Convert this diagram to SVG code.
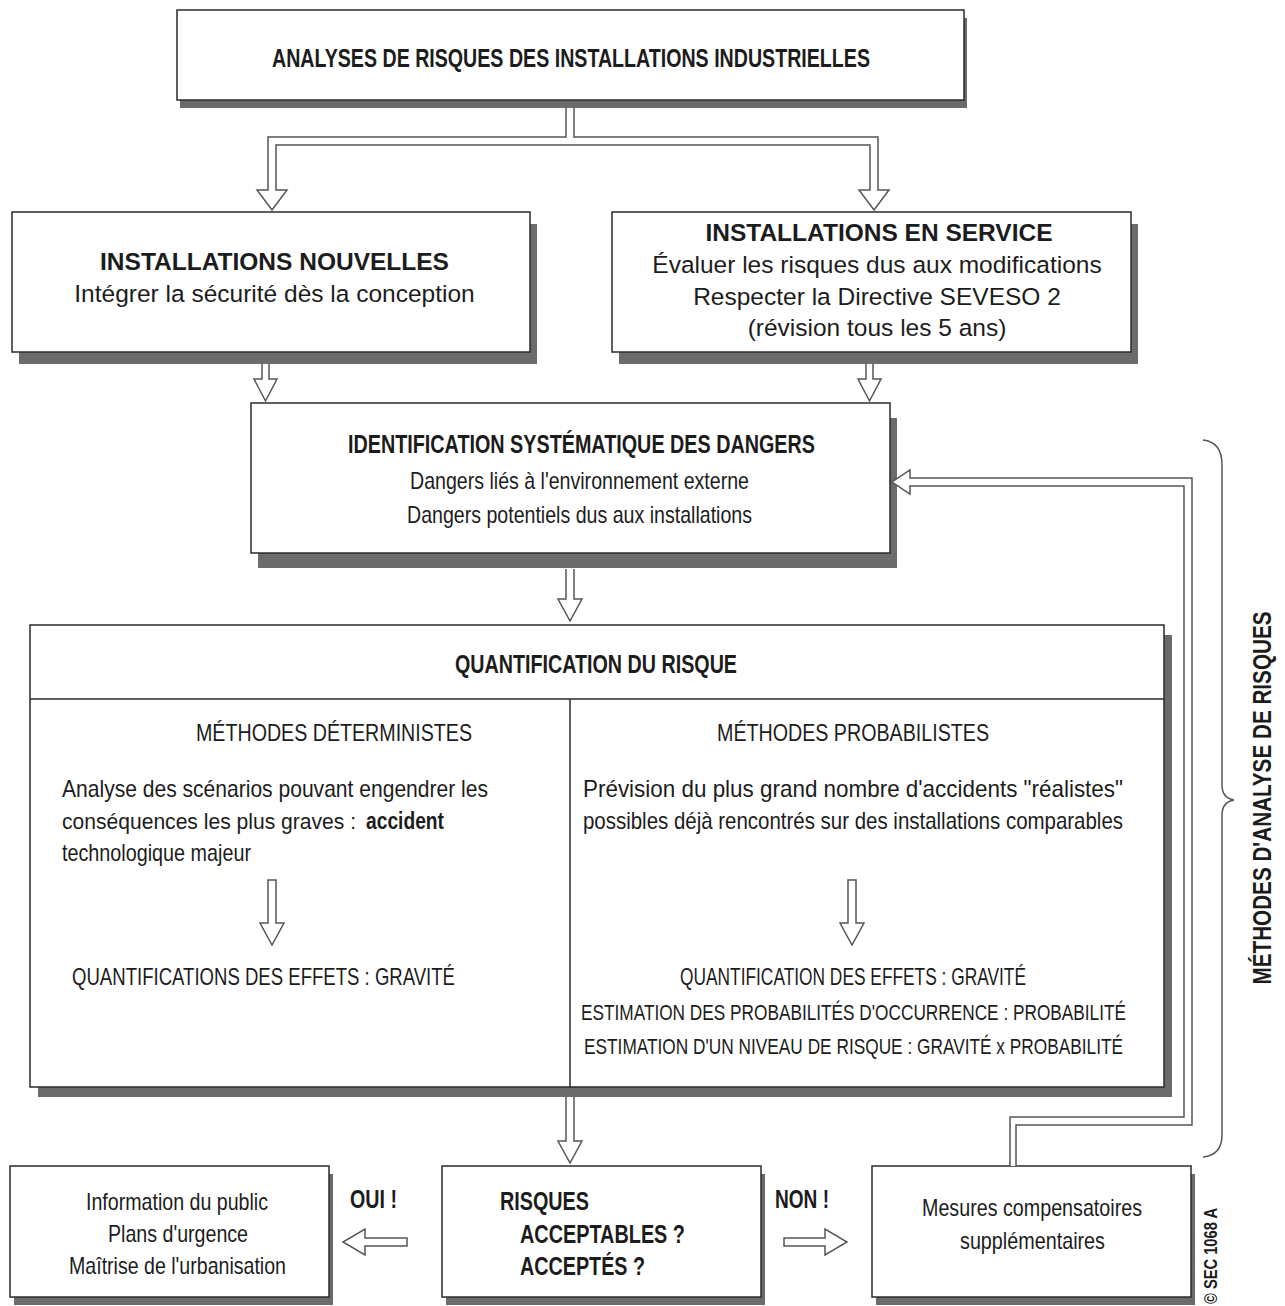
<svg xmlns="http://www.w3.org/2000/svg" width="1285" height="1306" viewBox="0 0 1285 1306">
<style>
.box{fill:#fff;stroke:#2b2b2b;stroke-width:1.5}
.shadow{fill:#6b6b6b}
.rule{stroke:#2b2b2b;stroke-width:1.5;fill:none}
.arrow{fill:#fff;stroke:#555;stroke-width:1.5;stroke-linejoin:miter}
.brace{fill:none;stroke:#555;stroke-width:1.5}
text{font-family:"Liberation Sans",Arial,sans-serif;fill:#1c1c1c}
.cb{font-size:26px;font-weight:bold}
.cr{font-size:24px}
.cs{font-size:21.5px}
.hb{font-size:24.5px;font-weight:bold}
.hr{font-size:24.5px}
.mid{text-anchor:middle}
</style>
<rect width="1285" height="1306" fill="#fff"/>

<!-- top node -->
<g id="analyses">
  <rect class="shadow" x="180" y="18" width="787" height="90"/>
  <rect class="box" x="177" y="10" width="787" height="90"/>
  <text class="cb mid" x="571" y="67" textLength="598" lengthAdjust="spacingAndGlyphs">ANALYSES DE RISQUES DES INSTALLATIONS INDUSTRIELLES</text>
</g>

<g id="nouvelles">
  <rect class="shadow" x="19" y="224" width="518" height="140"/>
  <rect class="box" x="12" y="212" width="518" height="140"/>
  <text class="hb mid" x="274.5" y="270">INSTALLATIONS NOUVELLES</text>
  <text class="hr mid" x="274.5" y="302">Intégrer la sécurité dès la conception</text>
</g>

<g id="service">
  <rect class="shadow" x="619" y="224" width="519" height="140"/>
  <rect class="box" x="612" y="212" width="519" height="140"/>
  <text class="hb mid" x="879" y="241">INSTALLATIONS EN SERVICE</text>
  <text class="hr mid" x="877" y="273">Évaluer les risques dus aux modifications</text>
  <text class="hr mid" x="877" y="305">Respecter la Directive SEVESO 2</text>
  <text class="hr mid" x="877" y="336">(révision tous les 5 ans)</text>
</g>

<g id="identification">
  <rect class="shadow" x="258" y="418" width="639" height="150"/>
  <rect class="box" x="251" y="403" width="639" height="150"/>
  <text class="cb mid" x="581.5" y="453" textLength="467" lengthAdjust="spacingAndGlyphs">IDENTIFICATION SYSTÉMATIQUE DES DANGERS</text>
  <text class="cr mid" x="579.5" y="489" textLength="339" lengthAdjust="spacingAndGlyphs">Dangers liés à l'environnement externe</text>
  <text class="cr mid" x="579.5" y="523" textLength="345" lengthAdjust="spacingAndGlyphs">Dangers potentiels dus aux installations</text>
</g>

<g id="quantification">
  <rect class="shadow" x="38" y="635" width="1134" height="462"/>
  <rect class="box" x="30" y="625" width="1134" height="462"/>
  <line class="rule" x1="30" y1="699" x2="1164" y2="699"/>
  <line class="rule" x1="570" y1="699" x2="570" y2="1087"/>
  <text class="cb mid" x="596" y="673" textLength="282" lengthAdjust="spacingAndGlyphs">QUANTIFICATION DU RISQUE</text>

  <!-- deterministic column -->
  <text class="cr mid" x="334" y="741" textLength="276" lengthAdjust="spacingAndGlyphs">MÉTHODES DÉTERMINISTES</text>
  <text class="cr" x="62" y="797" textLength="426" lengthAdjust="spacingAndGlyphs">Analyse des scénarios pouvant engendrer les</text>
  <text class="cs" x="62" y="829" textLength="294" lengthAdjust="spacingAndGlyphs">conséquences les plus graves :</text>
  <text class="cr" x="366" y="829" font-weight="bold" textLength="78" lengthAdjust="spacingAndGlyphs">accident</text>
  <text class="cr" x="62" y="861" textLength="189" lengthAdjust="spacingAndGlyphs">technologique majeur</text>
  <path class="arrow" d="M268,880 H276 V923 H284 L272,945 L260,923 H268 Z"/>
  <text class="cr mid" x="263.5" y="985" textLength="383" lengthAdjust="spacingAndGlyphs">QUANTIFICATIONS DES EFFETS : GRAVITÉ</text>

  <!-- probabilistic column -->
  <text class="cr mid" x="853" y="741" textLength="272" lengthAdjust="spacingAndGlyphs">MÉTHODES PROBABILISTES</text>
  <text class="cr" x="583" y="797" textLength="540" lengthAdjust="spacingAndGlyphs">Prévision du plus grand nombre d'accidents "réalistes"</text>
  <text class="cr" x="583" y="829" textLength="540" lengthAdjust="spacingAndGlyphs">possibles déjà rencontrés sur des installations comparables</text>
  <path class="arrow" d="M848,880 H856 V923 H864 L852,945 L840,923 H848 Z"/>
  <text class="cr mid" x="853" y="985" textLength="346" lengthAdjust="spacingAndGlyphs">QUANTIFICATION DES EFFETS : GRAVITÉ</text>
  <text class="cs mid" x="853.5" y="1020" textLength="545" lengthAdjust="spacingAndGlyphs">ESTIMATION DES PROBABILITÉS D'OCCURRENCE : PROBABILITÉ</text>
  <text class="cs mid" x="853.5" y="1054" textLength="539" lengthAdjust="spacingAndGlyphs">ESTIMATION D'UN NIVEAU DE RISQUE : GRAVITÉ x PROBABILITÉ</text>
</g>

<g id="information">
  <rect class="shadow" x="14" y="1174" width="319" height="131"/>
  <rect class="box" x="10" y="1166" width="319" height="131"/>
  <text class="cr mid" x="177" y="1210" textLength="182" lengthAdjust="spacingAndGlyphs">Information du public</text>
  <text class="cr mid" x="178" y="1242" textLength="140" lengthAdjust="spacingAndGlyphs">Plans d'urgence</text>
  <text class="cr mid" x="177.5" y="1274" textLength="217" lengthAdjust="spacingAndGlyphs">Maîtrise de l'urbanisation</text>
</g>

<g id="risques">
  <rect class="shadow" x="446" y="1174" width="319" height="131"/>
  <rect class="box" x="442" y="1166" width="319" height="131"/>
  <text class="cb" x="500" y="1210" textLength="89" lengthAdjust="spacingAndGlyphs">RISQUES</text>
  <text class="cb" x="520" y="1243" textLength="165" lengthAdjust="spacingAndGlyphs">ACCEPTABLES ?</text>
  <text class="cb" x="520" y="1275" textLength="125" lengthAdjust="spacingAndGlyphs">ACCEPTÉS ?</text>
</g>

<g id="mesures">
  <rect class="shadow" x="876" y="1174" width="319" height="131"/>
  <rect class="box" x="872" y="1166" width="319" height="131"/>
  <text class="cr mid" x="1032" y="1216" textLength="220" lengthAdjust="spacingAndGlyphs">Mesures compensatoires</text>
  <text class="cr mid" x="1032.5" y="1249" textLength="145" lengthAdjust="spacingAndGlyphs">supplémentaires</text>
</g>

<!-- hollow arrows between nodes -->
<g id="connectors">
  <path class="arrow" d="M566,108 V137 H268 V190 H257 L272,210 L287,190 H276 V145 H870 V190 H859 L874,210 L889,190 H878 V137 H574 V108"/>
  <path class="arrow" d="M262,364 V379 H254 L265.5,401 L277,379 H269 V364"/>
  <path class="arrow" d="M866,364 V379 H858 L869.5,401 L881,379 H873 V364"/>
  <path class="arrow" d="M566,569 V599 H558 L570,621 L582,599 H574 V569"/>
  <path class="arrow" d="M566,1097 V1141 H558 L570,1163 L582,1141 H574 V1097"/>
  <path class="arrow" d="M1010,1166 V1117 H1184 V486 H910 V494 L892,482 L910,470 V478 H1192 V1125 H1016 V1166"/>
  <path class="arrow" d="M407,1238 H365 V1229 L343,1242 L365,1255 V1246 H407 Z"/>
  <path class="arrow" d="M784,1238 H825 V1229 L847,1242 L825,1255 V1246 H784 Z"/>
  <text class="cb" x="350" y="1208" textLength="47" lengthAdjust="spacingAndGlyphs">OUI !</text>
  <text class="cb" x="775" y="1208" textLength="54" lengthAdjust="spacingAndGlyphs">NON !</text>
</g>

<!-- brace and side label -->
<g id="methodes">
  <path class="brace" d="M1203,440 Q1222,442 1222,465 L1222,785 Q1222,798 1234,800 Q1222,802 1222,815 L1222,1135 Q1222,1155 1203,1157"/>
  <text class="cb mid" transform="translate(1271,798) rotate(-90)" x="0" y="0" textLength="373" lengthAdjust="spacingAndGlyphs">MÉTHODES D'ANALYSE DE RISQUES</text>
</g>

<text transform="translate(1217,1208) rotate(-90)" x="0" y="0" style="font-size:19px;font-weight:bold;text-anchor:end" textLength="96" lengthAdjust="spacingAndGlyphs">© SEC 1068 A</text>
</svg>
